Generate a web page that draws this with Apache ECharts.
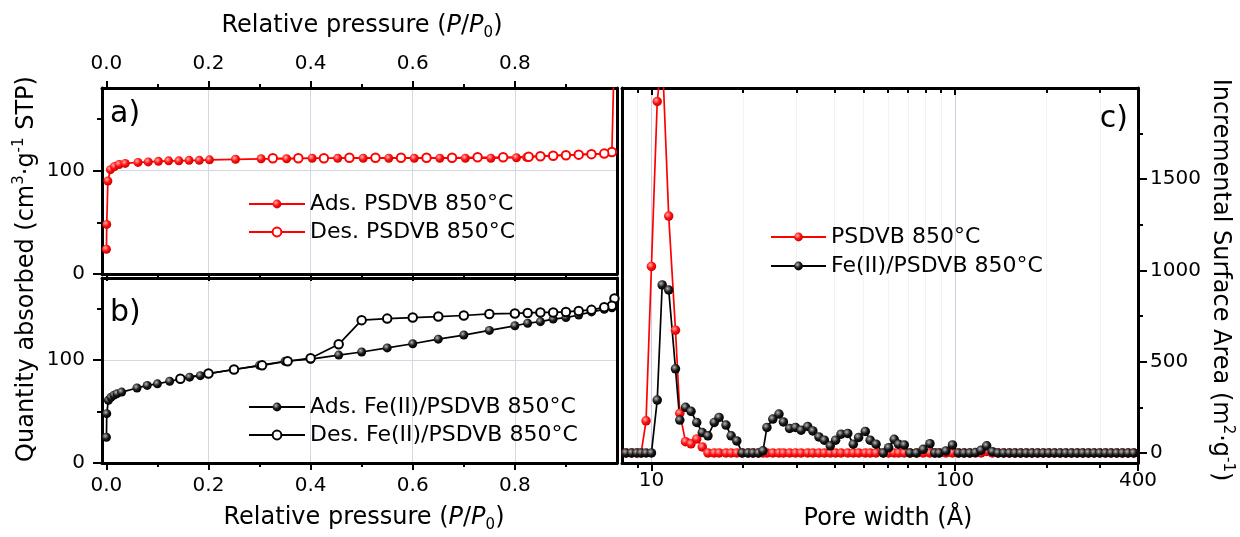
<!DOCTYPE html>
<html><head><meta charset="utf-8">
<script src="https://cdn.jsdelivr.net/npm/echarts@6/dist/echarts.min.js"></script>
<style>html,body{margin:0;padding:0;background:#fff}#c{width:1240px;height:537px}</style>
</head><body><div id="c"></div>
<script>
// ---------- Panel a: PSDVB 850°C isotherm ----------
const adsA_x = [0.0002,0.0008,0.003,0.008,0.016,0.025,0.037,0.062,0.082,0.102,0.122,0.142,0.162,0.182,0.202,0.253,0.303,0.353,0.403,0.453,0.503,0.553,0.603,0.653,0.703,0.753,0.803,0.823,0.85,0.875,0.9,0.925,0.95,0.975,0.99,0.997];
const adsA_y = [24,48,90,101,104,106,107,108,108.5,109,109.5,109.5,110,110,110.5,111,111.5,111.5,112,112,112,112,112,112,112,112,112.5,113,114,114.5,115,115.5,116,116.5,118,260];
const desA_x = [0.99,0.975,0.95,0.925,0.9,0.875,0.85,0.827,0.777,0.727,0.677,0.627,0.577,0.527,0.476,0.426,0.376,0.326];
const desA_y = [118,116.5,116,115.5,115,114.5,114,113.5,113,113,112.5,112.5,112.5,112.5,112.5,112,112,112];
// ---------- Panel b: Fe(II)/PSDVB 850°C isotherm ----------
const adsB_x = [0.0002,0.0008,0.004,0.009,0.015,0.021,0.03,0.06,0.08,0.1,0.124,0.163,0.184,0.2,0.25,0.3,0.35,0.4,0.455,0.5,0.55,0.6,0.65,0.7,0.75,0.8,0.825,0.85,0.875,0.9,0.925,0.95,0.975,0.99];
const adsB_y = [25,48,61,64,66,67.5,69,73,75.5,77,79.5,83.5,85,87,91,95,99,101,105,108,112,116,120.5,124.5,129,133.5,136,137.5,140,141.5,144,147,149.5,151];
const desB_x = [0.995,0.99,0.975,0.95,0.925,0.9,0.875,0.85,0.825,0.8,0.75,0.7,0.65,0.6,0.55,0.5,0.455,0.4,0.355,0.305,0.25,0.2,0.145];
const desB_y = [160,153,151.5,149,148,147,146.5,146.5,146,145.5,145,143.5,142.5,141.5,140.5,139,115.5,102,99,95,91,87,82];
// ---------- Panel c: incremental surface area vs pore width ----------
const poreWidth = [8.25,8.6,8.95,9.25,9.6,10.0,10.45,10.85,11.4,12.0,12.4,12.95,13.5,14.1,14.7,15.35,16.1,16.7,17.6,18.3,19.1,19.9,20.8,21.6,22.5,23.3,24.0,25.1,26.3,27.2,28.5,29.8,31.1,32.7,34.0,35.6,37.1,38.8,40.4,42.1,44.3,46.2,48.1,50.6,52.5,54.9,58.0,60.4,63.0,65.1,68.0,71.0,74.6,78.5,82.6,85.7,88.6,93.2,98.0,102.5,107,111.7,116.6,121.7,127,132.6,138.4,144.5,150.8,157.4,164.3,171.5,179,186.8,195,203.5,212.4,221.7,231.4,241.6,252.2,263.2,274.7,286.8,299.3,312.4,326.1,340.4,355.3,370.9,387.1];
const psdvbArea = [0,0,0,0,176,1022,1926,2190,1298,673,217,62,50,77,33,
  0,0,0,0,0,0,0,0,0,0,0,0,0,0,0,0,0,0,0,0,0,0,0,0,0,0,0,0,0,0,0,0,0,0,0,0,0,0,0,0,0,0,0,0,0,0,0,0,0,
  8,
  0,0,0,0,0,0,0,0,0,0,0,0,0,0,0,0,0,0,0,0,0,0,0,0,0,0];
const feArea = [0,0,0,0,0,0,290,921,893,461,180,250,228,167,112,94,167,195,153,94,66,0,0,0,0,12,140,186,213,170,134,140,125,145,121,88,70,39,70,103,107,48,85,118,70,48,0,29,75,48,44,0,0,20,51,0,0,11,44,0,0,0,2,15,39,7,
  0,0,0,0,0,0,0,0,0,0,0,0,0,0,0,0,0,0,0,0,0,0,0,0,0];
// ---------- ticks ----------
const pMajor = [0,0.2,0.4,0.6,0.8];
const pMinor = [0.1,0.3,0.5,0.7,0.9];
const qMajor = [0,100];
const qMinor = [50,150];
const poreGridMajor = [10,100];
const poreGridMinor = [9,20,30,40,50,60,70,80,90,200,300];
const areaMajor = [0,500,1000,1500];
const areaMinor = [250,750,1250,1750];

const F = 'DejaVu Sans';
const P_MIN = -0.0085, P_MAX = 1.0, Q_MIN = 0, Q_MAX = 180;
const W_MIN = 8, W_MAX = 400, A_MIN = -55, A_MAX = 2000;
const L = Math.log10;

const border = {show:true, onZero:false, lineStyle:{color:'#000', width:3}};
const noLine = {show:false, onZero:false};
function ax(o){
  return Object.assign({type:'value', axisLine:noLine, axisTick:{show:false}, axisLabel:{show:false},
    splitLine:{show:false}, z:1.5}, o);
}
function ticks(vals, len, inside){
  return {show:true, customValues:vals, length:len, inside:!!inside, lineStyle:{color:'#000', width:2}};
}
function labels(vals, margin, fmt){
  return {show:true, customValues:vals, margin:margin, fontFamily:F, fontSize:20, color:'#000', formatter:fmt};
}
const fmt1 = v => Number(v).toFixed(1);
const fmt0 = v => String(Math.round(v));

const xAxis = [
  // grid a
  ax({gridIndex:0, position:'top', min:P_MIN, max:P_MAX, axisLine:border, axisTick:ticks(pMajor,7), axisLabel:labels(pMajor,14,fmt1)}), //0
  ax({gridIndex:0, position:'top', min:P_MIN, max:P_MAX, axisTick:ticks(pMinor,4)}), //1
  ax({gridIndex:0, position:'bottom', min:P_MIN, max:P_MAX, axisLine:border, axisTick:ticks(pMajor,7)}), //2
  ax({gridIndex:0, position:'bottom', min:P_MIN, max:P_MAX, axisTick:ticks(pMinor,4)}), //3
  // grid b
  ax({gridIndex:1, position:'bottom', min:P_MIN, max:P_MAX, axisLine:border, axisTick:ticks(pMajor,7), axisLabel:labels(pMajor,13,fmt1)}), //4
  ax({gridIndex:1, position:'bottom', min:P_MIN, max:P_MAX, axisTick:ticks(pMinor,4)}), //5
  ax({gridIndex:1, position:'top', min:P_MIN, max:P_MAX, axisLine:border}), //6
  // grid c
  {type:'log', logBase:10, gridIndex:2, position:'bottom', min:W_MIN, max:W_MAX, z:1.5,
   axisLine:border, axisTick:{show:true, length:8, lineStyle:{color:'#000', width:2}},
   axisLabel:{show:true, showMinLabel:false, showMaxLabel:true, margin:8, fontFamily:F, fontSize:20, color:'#000', formatter:fmt0},
   splitLine:{show:false}, minorTick:{show:false}, minorSplitLine:{show:false}}, //7
  ax({gridIndex:2, position:'bottom', min:L(W_MIN), max:L(W_MAX), axisTick:ticks(poreGridMinor.map(L),5)}), //8
  ax({gridIndex:2, position:'top', min:L(W_MIN), max:L(W_MAX), axisLine:border, axisTick:ticks(poreGridMajor.map(L),7,true)}), //9
  ax({gridIndex:2, position:'top', min:L(W_MIN), max:L(W_MAX), axisTick:ticks(poreGridMinor.map(L),5,true)}) //10
];
const yAxis = [
  ax({gridIndex:0, position:'left', min:Q_MIN, max:Q_MAX, axisLine:border, axisTick:ticks(qMajor,9), axisLabel:labels(qMajor,17,fmt0)}), //0
  ax({gridIndex:0, position:'left', min:Q_MIN, max:Q_MAX, axisTick:ticks(qMinor,5)}), //1
  ax({gridIndex:0, position:'right', min:Q_MIN, max:Q_MAX, axisLine:border}), //2
  ax({gridIndex:1, position:'left', min:Q_MIN, max:Q_MAX, axisLine:border, axisTick:ticks(qMajor,9), axisLabel:labels(qMajor,17,fmt0)}), //3
  ax({gridIndex:1, position:'left', min:Q_MIN, max:Q_MAX, axisTick:ticks(qMinor,5)}), //4
  ax({gridIndex:1, position:'right', min:Q_MIN, max:Q_MAX, axisLine:border}), //5
  ax({gridIndex:2, position:'right', min:A_MIN, max:A_MAX, axisLine:border, axisTick:ticks(areaMajor,9), axisLabel:labels(areaMajor,12,fmt0)}), //6
  ax({gridIndex:2, position:'right', min:A_MIN, max:A_MAX, axisTick:ticks(areaMinor,5)}), //7
  ax({gridIndex:2, position:'left', min:A_MIN, max:A_MAX, axisLine:border}) //8
];

const pairs = (xs, ys) => xs.map((x, i) => [x, ys[i]]);
const ball = (hi, mid, lo) => ({type:'radial', x:0.38, y:0.35, r:0.65,
  colorStops:[{offset:0, color:hi},{offset:0.55, color:mid},{offset:1, color:lo}]});
const redBall = ball('#ffb0b0', '#ff1010', '#d00000');
const blackBall = ball('#b8b8b8', '#1a1a1a', '#000000');

const gridStyle = {color:'#d5d5e3', width:1, type:'solid'};
function gridLines(data){
  return {silent:true, symbol:['none','none'], label:{show:false}, z:1, animation:false,
    lineStyle:gridStyle, emphasis:{disabled:true}, data:data};
}
const abGrid = gridLines(pMajor.slice(1).map(v => ({xAxis:v})).concat([{yAxis:100}]));
const cGrid = gridLines(
  poreGridMajor.map(v => ({xAxis:v, lineStyle:{color:'#cdcee5', width:1, type:'solid'}}))
  .concat(poreGridMinor.map(v => ({xAxis:v, lineStyle:{color:'#e6e6e6', width:1, type:'dotted'}})))
);

function lineSeries(name, xi, yi, data, filled, color, ballFill, size, extra){
  return Object.assign({
    name:name, type:'line', xAxisIndex:xi, yAxisIndex:yi, data:data,
    symbol: filled ? 'circle' : 'emptyCircle', symbolSize:size, showSymbol:true,
    itemStyle: filled ? {color:ballFill} : {color:color, borderColor:color, borderWidth:1.5},
    lineStyle:{color:color, width:1.7}, z:2, animation:false, emphasis:{disabled:true}
  }, extra || {});
}

const series = [
  lineSeries('Ads. PSDVB 850°C', 0, 0, pairs(adsA_x, adsA_y), true, '#ff0000', redBall, 9, {markLine:abGrid}),
  lineSeries('Des. PSDVB 850°C', 0, 0, pairs(desA_x, desA_y), false, '#ff0000', null, 8.5),
  lineSeries('Ads. Fe(II)/PSDVB 850°C', 4, 3, pairs(adsB_x, adsB_y), true, '#000000', blackBall, 9, {markLine:abGrid}),
  lineSeries('Des. Fe(II)/PSDVB 850°C', 4, 3, pairs(desB_x, desB_y), false, '#000000', null, 8.5),
  lineSeries('PSDVB 850°C', 7, 6, poreWidth.map((w, i) => [w, psdvbArea[i]]), true, '#ff0000', redBall, 9.5, {markLine:cGrid}),
  lineSeries('Fe(II)/PSDVB 850°C', 7, 6, poreWidth.map((w, i) => [w, feArea[i]]), true, '#000000', blackBall, 9.5)
];

function legend(names, left, top, w, gap){
  return {data:names, orient:'vertical', left:left, top:top, itemWidth:w, itemHeight:11, itemGap:gap,
    padding:0, selectedMode:false,
    textStyle:{fontFamily:F, fontSize:22, color:'#000', lineHeight:22}};
}

const rich = {
  n:{fontFamily:F, fontSize:24, fill:'#000', lineHeight:30},
  i:{fontFamily:F, fontSize:24, fontStyle:'italic', fill:'#000', lineHeight:30},
  s:{fontFamily:F, fontSize:15, fill:'#000', lineHeight:12, verticalAlign:'bottom'},
  u:{fontFamily:F, fontSize:15, fill:'#000', lineHeight:14, verticalAlign:'top'}
};
const pTitle = '{n|Relative pressure (}{i|P}{n|/}{i|P}{s|0}{n|)}';
function title(text, x, y, rot){
  return {type:'text', x:x, y:y, rotation:rot || 0, silent:true,
    style:{text:text, rich:rich, align:'center', verticalAlign:'middle'}};
}
function letter(text, x, y, align){
  return {type:'text', x:x, y:y, silent:true,
    style:{text:text, fontFamily:F, fontSize:30, fill:'#000', align:align, verticalAlign:'middle'}};
}

const option = {
  backgroundColor:'#ffffff',
  animation:false,
  grid:[
    {left:102, top:88, width:515, height:186},
    {left:102, top:278, width:515, height:185},
    {left:622, top:88, width:516, height:375}
  ],
  xAxis:xAxis, yAxis:yAxis, series:series,
  legend:[
    legend(['Ads. PSDVB 850°C','Des. PSDVB 850°C'], 248, 193, 56, 6),
    legend(['Ads. Fe(II)/PSDVB 850°C','Des. Fe(II)/PSDVB 850°C'], 248, 396, 56, 6),
    legend(['PSDVB 850°C','Fe(II)/PSDVB 850°C'], 770, 226, 55, 7)
  ],
  graphic:[
    title(pTitle, 362, 26),
    title(pTitle, 364, 518),
    title('{n|Pore width (Å)}', 888, 519),
    title('{n|Quantity absorbed (cm}{u|3}{n|·g}{u|-1}{n| STP)}', 27, 269, Math.PI/2),
    title('{n|Incremental Surface Area (m}{u|2}{n|·g}{u|-1}{n|)}', 1220, 280, -Math.PI/2),
    letter('a)', 110, 114, 'left'),
    letter('b)', 110, 313, 'left'),
    letter('c)', 1128, 119, 'right')
  ]
};
const chart = echarts.init(document.getElementById('c'), null, {renderer:'canvas'});
chart.setOption(option);
</script>
</body></html>
